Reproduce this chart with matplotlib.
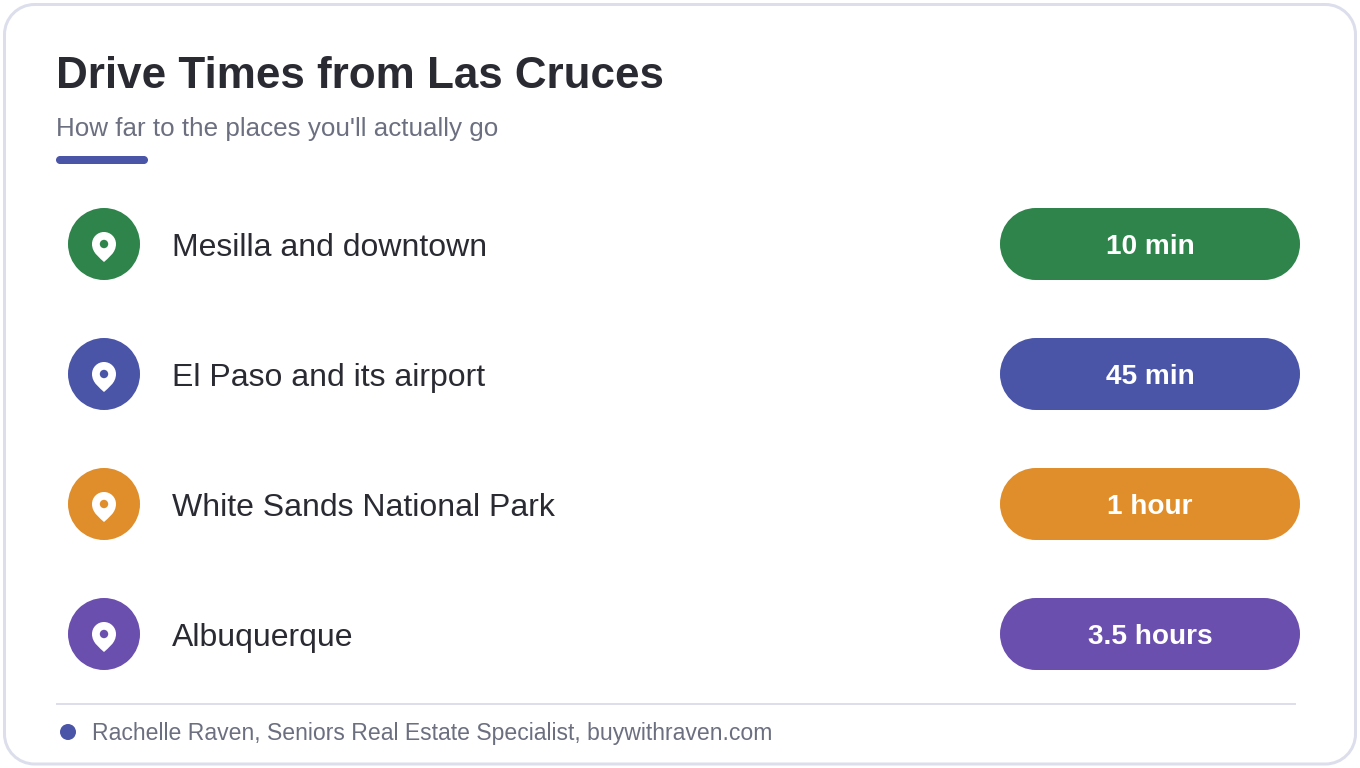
import matplotlib
matplotlib.use("Agg")
import matplotlib.pyplot as plt
from matplotlib.patches import Circle, PathPatch, Rectangle
from matplotlib.path import Path

title = "Drive Times from Las Cruces"
subtitle = "How far to the places you'll actually go"
footer = "Rachelle Raven, Seniors Real Estate Specialist, buywithraven.com"
places = ["Mesilla and downtown", "El Paso and its airport", "White Sands National Park", "Albuquerque"]
times = ["10 min", "45 min", "1 hour", "3.5 hours"]
colors = ["#2e844a", "#4a55a8", "#e08e2b", "#6b4fae"]

W, H = 1360, 768
INK, MUTED, RULE = "#2a2a33", "#6b6f80", "#dcdeec"
plt.rcParams["font.family"] = ["Liberation Sans", "DejaVu Sans"]
fig = plt.figure(figsize=(W / 100, H / 100), dpi=100, facecolor="white")
ax = fig.add_axes([0, 0, 1, 1])
ax.set_xlim(0, W)
ax.set_ylim(H, 0)
ax.axis("off")
px = 0.72
K = 0.5523


def rounded(x, y, w, h, r, **kw):
    c = r * (1 - K)
    x1, y1 = x + w, y + h
    verts = [(x + r, y), (x1 - r, y), (x1 - c, y), (x1, y + c), (x1, y + r),
             (x1, y1 - r), (x1, y1 - c), (x1 - c, y1), (x1 - r, y1),
             (x + r, y1), (x + c, y1), (x, y1 - c), (x, y1 - r),
             (x, y + r), (x, y + c), (x + c, y), (x + r, y), (x + r, y)]
    codes = [Path.MOVETO, Path.LINETO, Path.CURVE4, Path.CURVE4, Path.CURVE4,
             Path.LINETO, Path.CURVE4, Path.CURVE4, Path.CURVE4,
             Path.LINETO, Path.CURVE4, Path.CURVE4, Path.CURVE4,
             Path.LINETO, Path.CURVE4, Path.CURVE4, Path.CURVE4, Path.CLOSEPOLY]
    ax.add_patch(PathPatch(Path(verts, codes), **kw))


def pin(cx, cy, hole):
    r, tip = 12, 18
    verts = [(cx, cy + tip), (cx - 4, cy + 14), (cx - r, cy + 9), (cx - r, cy),
             (cx - r, cy - K * r), (cx - K * r, cy - r), (cx, cy - r),
             (cx + K * r, cy - r), (cx + r, cy - K * r), (cx + r, cy),
             (cx + r, cy + 9), (cx + 4, cy + 14), (cx, cy + tip), (cx, cy + tip)]
    codes = [Path.MOVETO] + [Path.CURVE4] * 12 + [Path.CLOSEPOLY]
    ax.add_patch(PathPatch(Path(verts, codes), fc="white", ec="none", zorder=3))
    ax.add_patch(Circle((cx, cy), 4.2, fc=hole, ec="none", zorder=4))


rounded(4.5, 4.5, 1351, 759.5, 30, fc="white", ec=RULE, lw=3 * px)

ax.text(56, 88, title, fontsize=44 * px, fontweight="bold", color=INK, va="baseline", ha="left")
ax.text(56, 136, subtitle, fontsize=26 * px, color=MUTED, va="baseline", ha="left")
rounded(56, 156, 92, 8, 4, fc=colors[1], ec="none")

for i, (place, t, c) in enumerate(zip(places, times, colors)):
    y = 244 + 130 * i
    ax.add_patch(Circle((104, y), 36, fc=c, ec="none"))
    pin(104, y, c)
    ax.text(172, y + 12, place, fontsize=32 * px, color=INK, va="baseline", ha="left")
    rounded(1000, y - 36, 300, 72, 36, fc=c, ec="none")
    ax.text(1150, y + 10, t, fontsize=28 * px, fontweight="bold", color="white", va="baseline", ha="center")

ax.add_patch(Rectangle((56, 703), 1240, 2, fc=RULE, ec="none"))
ax.add_patch(Circle((68, 732), 8, fc=colors[1], ec="none"))
ax.text(92, 740, footer, fontsize=23 * px, color=MUTED, va="baseline", ha="left")

fig.savefig("out.png", dpi=100, facecolor="white")
